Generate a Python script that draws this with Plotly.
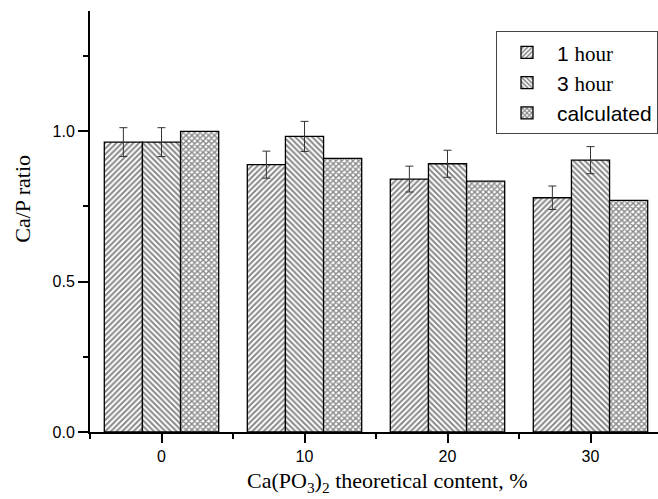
import plotly.graph_objects as go

categories = [0, 10, 20, 30]
series_names = ["1 hour", "3 hour", "calculated"]
hour1 = [0.964, 0.889, 0.841, 0.779]
hour1_err = [0.048, 0.045, 0.043, 0.039]
hour3 = [0.964, 0.983, 0.892, 0.904]
hour3_err = [0.048, 0.050, 0.045, 0.045]
calculated = [1.0, 0.910, 0.834, 0.770]

SERIF = "Liberation Serif"
SANS = "Liberation Sans"

def legend_name(n):
    if "hour" in n:
        num, word = n.split(" ")
        return f'{num} <span style="font-family: serif; font-family: Liberation Serif;">{word}</span>'
    return n

patterns = ["/", "\\", "x"]
values = [hour1, hour3, calculated]
errors = [hour1_err, hour3_err, None]

fig = go.Figure()
for name, vals, err, pat in zip(series_names, values, errors, patterns):
    kw = {}
    if err is not None:
        kw["error_y"] = dict(type="data", array=err, visible=True,
                             color="#333333", thickness=1, width=4)
    fig.add_trace(go.Bar(
        x=categories, y=vals, name=legend_name(name),
        marker=dict(color="white",
                    line=dict(color="black", width=1.3),
                    pattern=dict(shape=pat, fgcolor="#111111", bgcolor="white",
                                 size=4,
                                 solidity=0.5 if pat != "x" else 0.6)),
        **kw))

fig.update_layout(
    width=658, height=499,
    margin=dict(l=90, r=0, t=11, b=67),
    paper_bgcolor="white", plot_bgcolor="white",
    barmode="group", bargap=0.2, bargroupgap=0,
    font=dict(family=SANS, color="black", size=16),
    showlegend=True,
    legend=dict(x=1, xanchor="right", y=0.952, yanchor="top",
                bgcolor="white", bordercolor="#444444", borderwidth=1,
                font=dict(family=SANS, size=21), tracegroupgap=0,
                itemwidth=50),
    xaxis=dict(range=[-5, 34.72], tickvals=categories,
               ticktext=[str(c) for c in categories],
               showline=True, linewidth=2, linecolor="black",
               ticks="outside", ticklen=9, tickwidth=2, tickcolor="black",
               minor=dict(dtick=5, tick0=5, ticks="outside", ticklen=5, tickwidth=2, tickcolor="black"),
               showgrid=False, zeroline=False, fixedrange=True),
    yaxis=dict(range=[0, 1.4], dtick=0.5, tick0=0, tickformat=".1f",
               showline=True, linewidth=2, linecolor="black",
               ticks="outside", ticklen=10, tickwidth=2, tickcolor="black",
               minor=dict(dtick=0.25, ticks="outside", ticklen=5, tickwidth=2, tickcolor="black"),
               showgrid=False, zeroline=False, fixedrange=True),
    annotations=[
        dict(text="Ca/P ratio", textangle=-90, xref="paper", yref="paper",
             x=-0.119, y=0.555, xanchor="center", yanchor="middle", showarrow=False,
             font=dict(family=SERIF, size=22)),
        dict(text="Ca(PO<sub>3</sub>)<sub>2</sub> theoretical content, %",
             xref="paper", yref="paper", x=0.523, y=-0.118,
             xanchor="center", yanchor="middle", showarrow=False,
             font=dict(family=SERIF, size=22)),
    ],
)

fig.write_html("out.html")
